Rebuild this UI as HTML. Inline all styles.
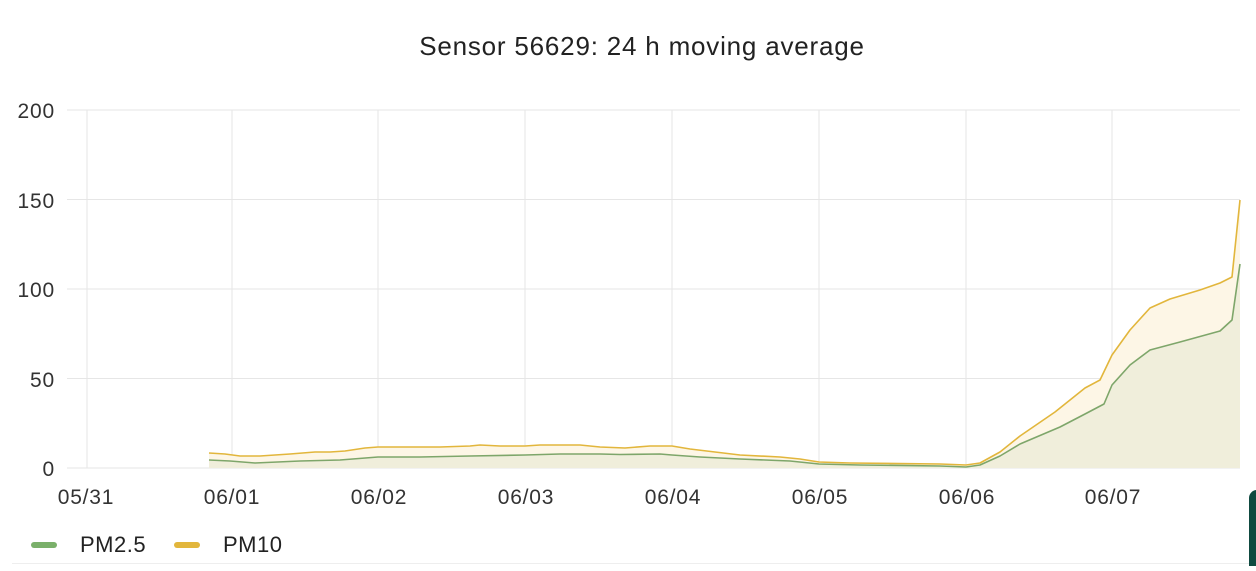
<!DOCTYPE html>
<html><head><meta charset="utf-8"><style>
body{margin:0;background:#fff;width:1256px;height:566px;overflow:hidden;font-family:"Liberation Sans",sans-serif}
</style></head><body>
<svg width="1256" height="566" xmlns="http://www.w3.org/2000/svg" font-family="Liberation Sans, sans-serif">
<text x="642" y="55" text-anchor="middle" font-size="26" letter-spacing="0.8" fill="#222">Sensor 56629: 24 h moving average</text>
<g stroke="#e6e6e6" stroke-width="1">
<line x1="67" x2="1240" y1="110" y2="110"/><line x1="67" x2="1240" y1="199.5" y2="199.5"/><line x1="67" x2="1240" y1="289" y2="289"/><line x1="67" x2="1240" y1="378.5" y2="378.5"/><line x1="67" x2="1240" y1="468" y2="468"/>
<line x1="87" x2="87" y1="110" y2="468"/><line x1="232" x2="232" y1="110" y2="468"/><line x1="378" x2="378" y1="110" y2="468"/><line x1="525" x2="525" y1="110" y2="468"/><line x1="672" x2="672" y1="110" y2="468"/><line x1="819" x2="819" y1="110" y2="468"/><line x1="966" x2="966" y1="110" y2="468"/><line x1="1112" x2="1112" y1="110" y2="468"/>
</g>
<g font-size="21" letter-spacing="0.8" fill="#333" text-anchor="end">
<text x="55" y="118">200</text><text x="55" y="208">150</text><text x="55" y="297">100</text><text x="55" y="387">50</text><text x="55" y="476">0</text>
</g>
<g font-size="21" letter-spacing="0.8" fill="#333" text-anchor="middle">
<text x="86" y="504">05/31</text><text x="232" y="504">06/01</text><text x="379" y="504">06/02</text><text x="526" y="504">06/03</text><text x="673" y="504">06/04</text><text x="820" y="504">06/05</text><text x="967" y="504">06/06</text><text x="1113" y="504">06/07</text>
</g>
<path d="M209,453 L225,454 240,456 260,456 290,454 315,452 330,452 345,451 365,448 378,447 400,447 440,447 470,446 480,445 500,446 525,446 540,445 580,445 600,447 625,448 650,446 672,446 690,449 740,455 780,457 800,459 819,462 850,463 940,464 966,465 980,463 1000,452 1020,436 1055,412 1085,388 1100,380 1112,355 1130,330 1150,308 1170,299 1200,290 1220,283 1232,277 1240,200 L1240,468 L209,468Z" fill="#fdf6e6"/>
<path d="M209,460 L230,461 255,463 300,461 340,460 378,457 420,457 470,456 525,455 560,454 600,454 620,454.5 660,454 672,455 700,457 740,459 790,461 819,464 860,465 940,466 966,467 980,465 1000,456 1020,444 1060,427 1085,414 1104,404 1112,385 1130,365 1150,350 1180,342 1220,331 1232,320 1240,264 L1240,468 L209,468Z" fill="#f0eedb"/>
<polyline fill="none" stroke="#e2b63c" stroke-width="1.6" stroke-linejoin="round" points="209,453 225,454 240,456 260,456 290,454 315,452 330,452 345,451 365,448 378,447 400,447 440,447 470,446 480,445 500,446 525,446 540,445 580,445 600,447 625,448 650,446 672,446 690,449 740,455 780,457 800,459 819,462 850,463 940,464 966,465 980,463 1000,452 1020,436 1055,412 1085,388 1100,380 1112,355 1130,330 1150,308 1170,299 1200,290 1220,283 1232,277 1240,200"/>
<polyline fill="none" stroke="#7ea66a" stroke-width="1.6" stroke-linejoin="round" points="209,460 230,461 255,463 300,461 340,460 378,457 420,457 470,456 525,455 560,454 600,454 620,454.5 660,454 672,455 700,457 740,459 790,461 819,464 860,465 940,466 966,467 980,465 1000,456 1020,444 1060,427 1085,414 1104,404 1112,385 1130,365 1150,350 1180,342 1220,331 1232,320 1240,264"/>
<line x1="34" x2="54" y1="545" y2="545" stroke="#7ab06a" stroke-width="6" stroke-linecap="round"/>
<text x="80" y="552" font-size="22" letter-spacing="0.5" fill="#222">PM2.5</text>
<line x1="177" x2="197" y1="545" y2="545" stroke="#e2b63c" stroke-width="6" stroke-linecap="round"/>
<text x="223" y="552" font-size="22" letter-spacing="0.5" fill="#222">PM10</text>
<line x1="12" x2="1256" y1="563.5" y2="563.5" stroke="#eee"/>
<rect x="1249" y="490" width="20" height="90" rx="8" fill="#0f4a40"/>
</svg>
</body></html>
